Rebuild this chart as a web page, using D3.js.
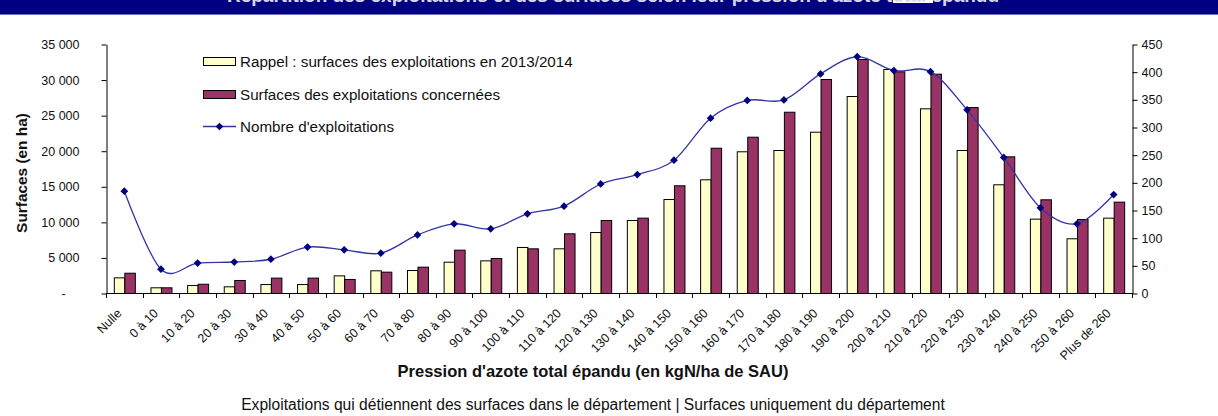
<!DOCTYPE html>
<html>
<head>
<meta charset="utf-8">
<script src="https://cdn.jsdelivr.net/npm/d3@7"></script>
<style>
  body { margin: 0; background: #fff; }
  svg { display: block; font-family: "Liberation Sans", Arial, sans-serif; }
</style>
</head>
<body>
<svg id="chart"></svg>
<script>
var width = 1218,
    height = 416;

// classes de pression d'azote
var categories = ["Nulle", "0 à 10", "10 à 20", "20 à 30", "30 à 40", "40 à 50", "50 à 60",
  "60 à 70", "70 à 80", "80 à 90", "90 à 100", "100 à 110", "110 à 120", "120 à 130",
  "130 à 140", "140 à 150", "150 à 160", "160 à 170", "170 à 180", "180 à 190",
  "190 à 200", "200 à 210", "210 à 220", "220 à 230", "230 à 240", "240 à 250",
  "250 à 260", "Plus de 260"];

// surfaces en ha
var rappel = [2200, 800, 1120, 940, 1260, 1260, 2480, 3190, 3230, 4400, 4590, 6470, 6280, 8570,
  10260, 13210, 15980, 19920, 20100, 22670, 27690, 31490, 25960, 20100, 15280, 10450, 7690, 10590];
var concernees = [2850, 800, 1300, 1830, 2160, 2160, 1970, 3000, 3700, 6090, 4920, 6280, 8390, 10260,
  10590, 15140, 20420, 21970, 25480, 30080, 32890, 31160, 30830, 26140, 19210, 13170, 10400, 12840];

// nombre d'exploitations (axe de droite)
var nombre = [184, 43, 54, 56, 61, 83, 78, 72, 105, 125, 116, 143, 157, 197, 214, 240, 316, 348,
  349, 396, 427, 402, 400, 331, 245, 154, 125, 178];

var leftTicks = [0, 5000, 10000, 15000, 20000, 25000, 30000, 35000];
var rightTicks = [0, 50, 100, 150, 200, 250, 300, 350, 400, 450];

var seriesNames = ["Rappel : surfaces des exploitations en 2013/2014",
  "Surfaces des exploitations concernées", "Nombre d'exploitations"];

var svg = d3.select("#chart")
    .attr("width", width)
    .attr("height", height);

// bandeau du titre (coupé en haut)
svg.append("rect").attr("x", 0).attr("y", 0).attr("width", width).attr("height", 14).attr("fill", "#000080");
svg.append("line").attr("x1", 0).attr("x2", width).attr("y1", 14.5).attr("y2", 14.5)
    .attr("stroke", "#7474c4").attr("stroke-width", 1);
svg.append("rect").attr("x", 893).attr("y", 0).attr("width", 40).attr("height", 3).attr("fill", "#fff");
svg.append("text")
    .attr("x", 613).attr("y", 1.5)
    .attr("text-anchor", "middle")
    .attr("font-size", 19).attr("font-weight", "bold")
    .attr("fill", "#d8d8ee")
    .text("Répartition des exploitations et des surfaces selon leur pression d'azote total épandu");

var plotLeft = 106, plotRight = 1132, plotTop = 44, plotBottom = 293;

var x = d3.scaleBand().domain(categories).range([plotLeft, plotRight]).padding(0);
var x1 = d3.scaleBand().domain(["rappel", "concernees"]).range([0, x.bandwidth()])
    .paddingInner(0).paddingOuter(0.745);
var y = d3.scaleLinear().domain([0, 35000]).range([plotBottom, plotTop]);
var y2 = d3.scaleLinear().domain([0, 450]).range([plotBottom, plotTop]);

// barres
var groups = svg.append("g").selectAll("g")
    .data(categories)
    .enter().append("g")
    .attr("transform", function(d) { return "translate(" + x(d) + ",0)"; });

groups.append("rect")
    .attr("x", x1("rappel") + 0.5)
    .attr("y", function(d, i) { return y(rappel[i]) + 0.5; })
    .attr("width", x1.bandwidth())
    .attr("height", function(d, i) { return y(0) - y(rappel[i]); })
    .attr("fill", "#ffffcc")
    .attr("stroke", "#000").attr("stroke-width", 1);

groups.append("rect")
    .attr("x", x1("concernees") + 0.5)
    .attr("y", function(d, i) { return y(concernees[i]) + 0.5; })
    .attr("width", x1.bandwidth())
    .attr("height", function(d, i) { return y(0) - y(concernees[i]); })
    .attr("fill", "#993366")
    .attr("stroke", "#000").attr("stroke-width", 1);

// axe gauche
var fmt = function(d) { return d == 0 ? "-" : d3.format(",")(d).replace(/,/g, " "); };
var gLeft = svg.append("g")
    .attr("transform", "translate(" + (plotLeft + 0.5) + ",0.5)")
    .call(d3.axisLeft(y).tickValues(leftTicks).tickSize(5).tickSizeOuter(0).tickPadding(22).tickFormat(fmt));
gLeft.selectAll("text").attr("font-size", 12.5).attr("fill", "#111").attr("font-family", null);
gLeft.selectAll("text").filter(function(d) { return d == 0; })
    .attr("text-anchor", "middle").attr("x", -43);

// axe droit
var gRight = svg.append("g")
    .attr("transform", "translate(" + (plotRight + 0.5) + ",0.5)")
    .call(d3.axisRight(y2).tickValues(rightTicks).tickSize(5).tickSizeOuter(0).tickPadding(4));
gRight.selectAll("text").attr("font-size", 12.5).attr("fill", "#111").attr("font-family", null);

// axe des x
svg.append("line")
    .attr("x1", plotLeft).attr("x2", plotRight + 1)
    .attr("y1", plotBottom + 0.5).attr("y2", plotBottom + 0.5)
    .attr("stroke", "#000");
var bounds = categories.map(function(d) { return x(d); }).concat([x.range()[1]]);
svg.append("g").selectAll("line")
    .data(bounds)
    .enter().append("line")
    .attr("x1", function(d) { return Math.round(d) + 0.5; })
    .attr("x2", function(d) { return Math.round(d) + 0.5; })
    .attr("y1", plotBottom).attr("y2", plotBottom + 5)
    .attr("stroke", "#000");

svg.append("g").selectAll("text")
    .data(categories)
    .enter().append("text")
    .attr("transform", function(d) {
      return "translate(" + (x(d) + x.bandwidth() / 2 - 2) + "," + (plotBottom + 21) + ") rotate(-45)";
    })
    .attr("text-anchor", "end")
    .attr("font-size", 12.5)
    .attr("fill", "#111")
    .text(function(d) { return d; });

// courbe du nombre d'exploitations
var line = d3.line()
    .x(function(d, i) { return x(categories[i]) + x.bandwidth() / 2; })
    .y(function(d) { return y2(d); })
    .curve(d3.curveCatmullRom.alpha(0));

svg.append("path")
    .datum(nombre)
    .attr("d", line)
    .attr("fill", "none")
    .attr("stroke", "#3434a4")
    .attr("stroke-width", 1.3);

var diamond = d3.symbol().type(d3.symbolSquare).size(30);
svg.append("g").selectAll("path")
    .data(nombre)
    .enter().append("path")
    .attr("d", diamond)
    .attr("transform", function(d, i) {
      return "translate(" + (x(categories[i]) + x.bandwidth() / 2) + "," + y2(d) + ") rotate(45)";
    })
    .attr("fill", "#000080");

// titres d'axes
svg.append("text")
    .attr("transform", "translate(27,173) rotate(-90)")
    .attr("text-anchor", "middle")
    .attr("font-size", 15.4).attr("font-weight", "bold")
    .attr("fill", "#111")
    .text("Surfaces (en ha)");

svg.append("text")
    .attr("x", 593).attr("y", 377)
    .attr("text-anchor", "middle")
    .attr("font-size", 16.5).attr("font-weight", "bold")
    .attr("fill", "#111")
    .text("Pression d'azote total épandu (en kgN/ha de SAU)");

svg.append("text")
    .attr("x", 593).attr("y", 410)
    .attr("text-anchor", "middle")
    .attr("font-size", 15.6)
    .attr("fill", "#111")
    .text("Exploitations qui détiennent des surfaces dans le département | Surfaces uniquement du département");

// légende
var legend = svg.append("g");
var legendY = [61.5, 94.5, 126.5];

legend.append("rect").attr("x", 203.5).attr("y", 57.5).attr("width", 32).attr("height", 8)
    .attr("fill", "#ffffcc").attr("stroke", "#000");
legend.append("rect").attr("x", 203.5).attr("y", 90.5).attr("width", 32).attr("height", 8)
    .attr("fill", "#993366").attr("stroke", "#000");
legend.append("line").attr("x1", 203).attr("x2", 236).attr("y1", legendY[2]).attr("y2", legendY[2])
    .attr("stroke", "#3434a4").attr("stroke-width", 1.3);
legend.append("path").attr("d", diamond)
    .attr("transform", "translate(219.5," + legendY[2] + ") rotate(45)")
    .attr("fill", "#000080");

legend.selectAll("text")
    .data(seriesNames)
    .enter().append("text")
    .attr("x", 240)
    .attr("y", function(d, i) { return legendY[i]; })
    .attr("dy", "0.35em")
    .attr("font-size", 15.2)
    .attr("fill", "#111")
    .text(function(d) { return d; });
</script>
</body>
</html>
